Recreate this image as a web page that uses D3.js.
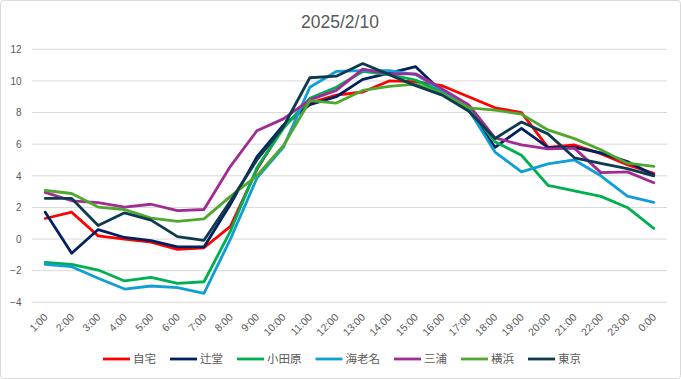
<!DOCTYPE html>
<html><head><meta charset="utf-8">
<script src="https://cdn.jsdelivr.net/npm/d3@7"></script>
<style>
html,body{margin:0;padding:0;background:#fff;}
svg{display:block;font-family:"Liberation Sans","Noto Sans CJK JP",Arial,sans-serif;}
</style></head>
<body><svg id="c" width="681" height="379"></svg>
<script>
const title = "2025/2/10";
const hours = ["1:00","2:00","3:00","4:00","5:00","6:00","7:00","8:00","9:00","10:00","11:00","12:00","13:00","14:00","15:00","16:00","17:00","18:00","19:00","20:00","21:00","22:00","23:00","0:00"];
const yTicks = [-4,-2,0,2,4,6,8,10,12];
const seriesNames = ["自宅","辻堂","小田原","海老名","三浦","横浜","東京"];
const seriesColors = ["#FF0000","#002060","#00B050","#0F9ED5","#A02B93","#4EA72E","#0E3A4F"];
const jitaku   = [1.3,1.7,0.2,0.0,-0.2,-0.65,-0.55,0.8,4.4,7.1,8.6,9.1,9.3,10.0,9.95,9.7,9.0,8.3,8.0,5.8,5.95,5.4,4.7,4.15];
const tsujido  = [1.7,-0.9,0.6,0.1,-0.1,-0.5,-0.5,2.2,5.2,7.2,8.5,9.0,10.1,10.5,10.9,9.3,8.2,5.8,7.0,5.8,5.8,5.45,4.9,4.05];
const odawara  = [-1.47,-1.6,-1.96,-2.65,-2.42,-2.8,-2.7,0.5,4.5,7.0,8.9,9.6,10.6,10.4,10.05,9.3,8.3,6.15,5.3,3.4,3.05,2.7,2.0,0.68];
const ebina    = [-1.6,-1.75,-2.48,-3.16,-2.97,-3.07,-3.43,0.0,3.85,5.8,9.6,10.6,10.65,10.65,10.4,9.4,8.2,5.5,4.25,4.75,5.0,4.0,2.72,2.32];
const miura    = [2.95,2.42,2.3,2.02,2.2,1.8,1.87,4.6,6.85,7.6,8.8,9.4,10.75,10.45,10.45,9.5,8.5,6.4,5.95,5.7,5.75,4.2,4.25,3.56];
const yokohama = [3.07,2.88,2.02,1.87,1.33,1.12,1.28,2.7,4.0,5.9,8.75,8.6,9.4,9.65,9.8,9.2,8.3,8.15,7.9,6.9,6.35,5.65,4.8,4.6];
const tokyo    = [2.57,2.57,0.86,1.66,1.2,0.15,-0.08,2.4,5.0,7.1,10.2,10.3,11.1,10.4,9.7,9.1,8.1,6.36,7.4,6.65,5.14,4.78,4.46,4.0];
const seriesValues = [jitaku,tsujido,odawara,ebina,miura,yokohama,tokyo];

const svg = d3.select("#c");
const W = 681, H = 379;
const L = 32, R = 667, T = 49.3, B = 302.3;
const grey = "#595959";

svg.append("rect").attr("x",0.5).attr("y",0.5).attr("width",W-1).attr("height",H-1)
  .attr("rx",3).attr("fill","#fff").attr("stroke","#D9D9D9");

svg.append("text").attr("x",340).attr("y",28).attr("text-anchor","middle")
  .attr("font-size",17.5).attr("fill",grey).text(title);

const x = d3.scalePoint().domain(hours).range([L,R]).padding(0.5);
const y = d3.scaleLinear().domain([-4,12]).range([B,T]);

// grid
svg.append("g").selectAll("line").data(yTicks).join("line")
  .attr("x1",L).attr("x2",R).attr("y1",d=>y(d)).attr("y2",d=>y(d))
  .attr("stroke","#D9D9D9").attr("stroke-width",1);

// y axis labels
const yAxis = d3.axisLeft(y).tickValues(yTicks).tickSize(0).tickPadding(0);
const yg = svg.append("g").attr("transform","translate(21.5,0)").call(yAxis);
yg.select(".domain").remove();
yg.selectAll("text").attr("font-size",10).attr("fill",grey)
  .attr("font-family","Liberation Sans, Arial, sans-serif");

// x axis labels
const xAxis = d3.axisBottom(x).tickSize(0).tickPadding(0);
const xg = svg.append("g").attr("transform","translate(0,"+(B+13)+")").call(xAxis);
xg.select(".domain").remove();
xg.selectAll("text").attr("font-size",10.5).attr("fill",grey)
  .attr("text-anchor","end").attr("dy","0.35em").attr("dx","0")
  .attr("transform","translate(0,0) rotate(-45)")
  .attr("font-family","Liberation Sans, Arial, sans-serif");

// lines
const line = d3.line().x((d,i)=>x(hours[i])).y(d=>y(d));
svg.append("g").selectAll("path").data(seriesValues).join("path")
  .attr("d",d=>line(d)).attr("fill","none")
  .attr("stroke",(d,i)=>seriesColors[i]).attr("stroke-width",2.8)
  .attr("stroke-linejoin","round").attr("stroke-linecap","round");

// legend
const lg = svg.append("g");
const items = [];
seriesNames.forEach((n,i)=>{
  const g = lg.append("g");
  g.append("line").attr("x1",0).attr("x2",27).attr("y1",0).attr("y2",0)
    .attr("stroke",seriesColors[i]).attr("stroke-width",2.8);
  const t = g.append("text").attr("x",30).attr("y",4).attr("font-size",11.5)
    .attr("fill",grey).attr("font-family","Noto Sans CJK JP, sans-serif").text(n);
  const w = 30 + t.node().getComputedTextLength();
  items.push({g,w});
});
const gap = 14;
const total = d3.sum(items,d=>d.w) + gap*(items.length-1);
let start = 342 - total/2;
items.forEach(it=>{ it.g.attr("transform","translate("+start+",359)"); start += it.w + gap; });
</script></body></html>
